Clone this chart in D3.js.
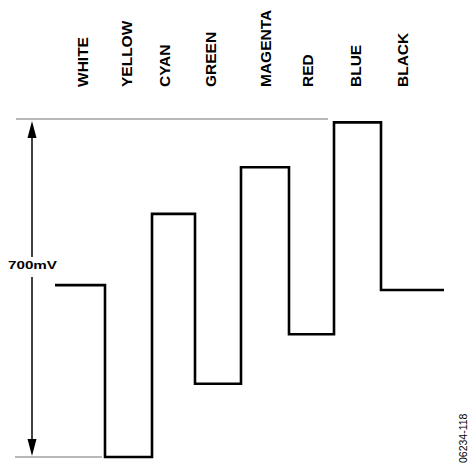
<!DOCTYPE html>
<html>
<head>
<meta charset="utf-8">
<script src="https://cdn.jsdelivr.net/npm/d3@7"></script>
<style>
  html, body { margin: 0; padding: 0; background: #fff; }
  svg { display: block; font-family: Arial, "Liberation Sans", Helvetica, sans-serif; }
</style>
</head>
<body>
<svg id="chart" width="471" height="466"></svg>
<script>
// Colour bar names, one per step
const bars = ['WHITE', 'YELLOW', 'CYAN', 'GREEN', 'MAGENTA', 'RED', 'BLUE', 'BLACK'];
// Step level of each bar, mV above the bottom reference
const levels = [357, 0, 505, 152, 602, 255, 695, 347];
// Step edges along the line (arbitrary time units)
const edges = [0, 50, 97, 140, 186, 234, 279, 326, 389];
// Where each bar name sits along the line
const labelAt = [27, 71, 109, 155, 210, 252, 300, 347];
// Full swing marked by the arrow
const swing = [0, 700];
const swingLabel = '700mV';
const figureId = '06234-118';

const svg = d3.select('#chart');

const x = d3.scaleLinear().domain([0, 389]).range([55, 444]);
const y = d3.scaleLinear().domain(swing).range([457, 120]);

// Grey reference lines at top and bottom of the swing
svg.append('line')
  .attr('x1', 16).attr('x2', 328)
  .attr('y1', y(swing[1]) - 1).attr('y2', y(swing[1]) - 1)
  .attr('stroke', '#b8b8b8').attr('stroke-width', 2);

svg.append('line')
  .attr('x1', 15).attr('x2', 102)
  .attr('y1', y(swing[0])).attr('y2', y(swing[0]))
  .attr('stroke', '#b8b8b8').attr('stroke-width', 2);

// Step waveform
const pts = [];
levels.forEach((v, i) => {
  pts.push([x(edges[i]), y(v)]);
  pts.push([x(edges[i + 1]), y(v)]);
});

svg.append('path')
  .attr('d', d3.line()(pts))
  .attr('fill', 'none')
  .attr('stroke', '#000')
  .attr('stroke-width', 2.6)
  .attr('stroke-linejoin', 'miter')
  .attr('stroke-linecap', 'butt');

// Bar names, rotated
svg.append('g')
  .selectAll('text')
  .data(bars)
  .enter()
  .append('text')
    .attr('transform', (d, i) => `translate(${x(labelAt[i]) + 5.5},87) rotate(-90)`)
    .attr('text-anchor', 'start')
    .attr('font-size', 15.5)
    .attr('font-weight', 'bold')
    .text(d => d);

// Double arrow for the 700mV swing
const ax = 32, arrowTop = y(swing[1]) + 1, arrowBot = y(swing[0]) - 1;
const gapTop = 257, gapBot = 277;
svg.append('line')
  .attr('x1', ax).attr('x2', ax).attr('y1', arrowTop + 14).attr('y2', gapTop)
  .attr('stroke', '#000').attr('stroke-width', 1.5);
svg.append('line')
  .attr('x1', ax).attr('x2', ax).attr('y1', gapBot).attr('y2', arrowBot - 14)
  .attr('stroke', '#000').attr('stroke-width', 1.5);
svg.append('path')
  .attr('d', `M${ax},${arrowTop} L${ax - 4.5},${arrowTop + 17} L${ax + 4.5},${arrowTop + 17} Z`)
  .attr('fill', '#000');
svg.append('path')
  .attr('d', `M${ax},${arrowBot} L${ax - 4.5},${arrowBot - 17} L${ax + 4.5},${arrowBot - 17} Z`)
  .attr('fill', '#000');

svg.append('text')
  .attr('x', 8).attr('y', 268.5)
  .attr('font-size', 11.5)
  .attr('font-weight', 'bold')
  .attr('textLength', 49)
  .attr('lengthAdjust', 'spacingAndGlyphs')
  .text(swingLabel);

// Figure number
svg.append('text')
  .attr('transform', 'translate(467,463) rotate(-90)')
  .attr('font-size', 10.5)
  .text(figureId);
</script>
</body>
</html>
